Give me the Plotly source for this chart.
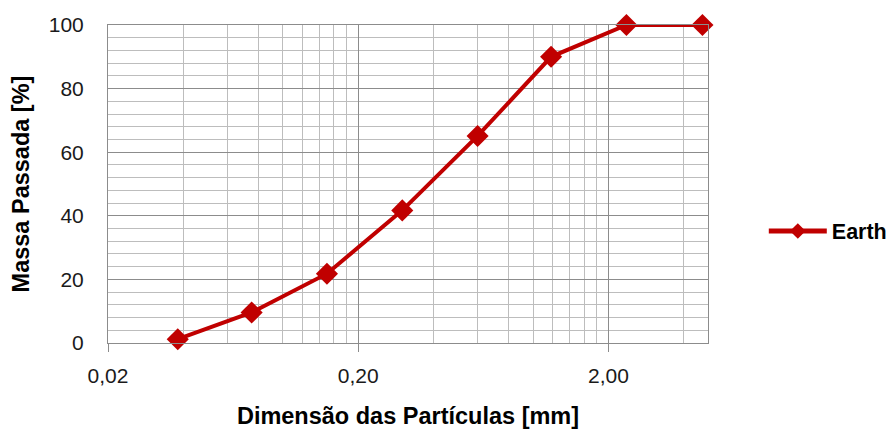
import plotly.graph_objects as go

# Data
particle_size_mm = [0.038, 0.075, 0.150, 0.300, 0.600, 1.18, 2.36, 4.75]
mass_passing_pct = [1.2, 9.6, 21.8, 41.7, 65.1, 90.0, 100.0, 100.0]
series_name = "Earth"
x_tick_vals = [0.02, 0.2, 2.0]
x_tick_text = ["0,02", "0,20", "2,00"]
y_tick_vals = [0, 20, 40, 60, 80, 100]

RED = "#C00000"
FONT = "Liberation Sans, Arial, sans-serif"

minor_x = [b * k for b in (0.02, 0.2, 2.0) for k in range(2, 10)]
minor_y = [v for v in range(0, 101, 4) if v % 20 != 0]

fig = go.Figure()
fig.add_trace(go.Scatter(
    x=particle_size_mm, y=mass_passing_pct, name="<b>" + series_name + "</b>",
    mode="lines+markers",
    line=dict(color=RED, width=4),
    marker=dict(symbol="diamond", size=17, color=RED),
    cliponaxis=False,
))

fig.update_layout(
    width=892, height=429,
    margin=dict(l=108, r=184, t=25, b=86, autoexpand=False),
    paper_bgcolor="white", plot_bgcolor="white",
    font=dict(family=FONT, size=21, color="#1a1a1a"),
    showlegend=True,
    legend=dict(x=1.093, y=0.352, xanchor="left", yanchor="middle",
                font=dict(family=FONT, size=21.5, color="#000"),
                itemwidth=58, itemsizing="constant", bgcolor="rgba(0,0,0,0)"),
    xaxis=dict(
        type="log",
        range=[-1.69897, 0.69897],
        tickmode="array", tickvals=x_tick_vals, ticktext=x_tick_text,
        showgrid=True, gridcolor="#8c8c8c", gridwidth=1,
        ticks="outside", ticklen=8, tickcolor="#8c8c8c",
        ticklabelstandoff=6,
        showline=True, linecolor="#8c8c8c", linewidth=1, mirror=True,
        zeroline=False,
        minor=dict(tickmode="array", tickvals=minor_x, showgrid=True,
                   gridcolor="#bdbdbd", gridwidth=1, ticks=""),
        title=dict(text="<b>Dimensão das Partículas [mm]</b>",
                   font=dict(family=FONT, size=23.5, color="#000"), standoff=21),
        tickfont=dict(family=FONT, size=21, color="#1a1a1a"),
    ),
    yaxis=dict(
        range=[0, 100],
        tickmode="array", tickvals=y_tick_vals,
        showgrid=True, gridcolor="#8c8c8c", gridwidth=1,
        ticks="", ticklen=0,
        ticklabelstandoff=19,
        showline=True, linecolor="#8c8c8c", linewidth=1, mirror=True,
        zeroline=False,
        minor=dict(tickmode="array", tickvals=minor_y, showgrid=True,
                   gridcolor="#bdbdbd", gridwidth=1, ticks=""),
        title=dict(text="<b>Massa Passada [%]</b>",
                   font=dict(family=FONT, size=23.5, color="#000"), standoff=12),
        tickfont=dict(family=FONT, size=21, color="#1a1a1a"),
    ),
)

fig.write_html("out.html")
